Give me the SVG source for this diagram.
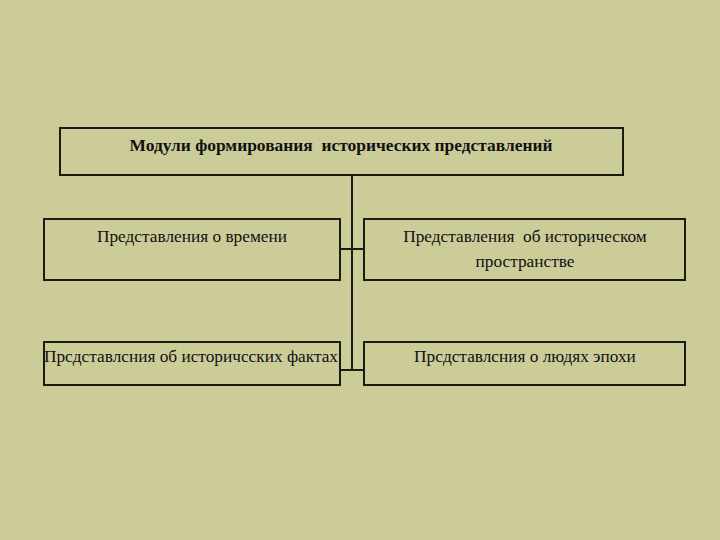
<svg xmlns="http://www.w3.org/2000/svg" width="720" height="540" viewBox="0 0 720 540">
<style>
.box{fill:#CCCC99;stroke:#1a1a10;stroke-width:2}
.t{font-family:"Liberation Serif","Times New Roman",serif;font-size:17.3px;fill:#111;text-anchor:middle}
.b{font-weight:bold;font-size:17px}
.c{stroke:#1a1a10;stroke-width:2;fill:none}
</style>
<rect width="720" height="540" fill="#CCCC99"/>
<g id="connectors">
<path class="c" d="M352 175 V370"/>
<path class="c" d="M340 249 H364" stroke-width="3"/>
<path class="c" d="M340 370 H364"/>
</g>
<g id="root">
<rect class="box" x="60" y="128" width="563" height="47"/>
<text class="t b" x="341" y="151" textLength="423" lengthAdjust="spacingAndGlyphs" xml:space="preserve">Модули формирования  исторических представлений</text>
</g>
<g id="time">
<rect class="box" x="44" y="219" width="296" height="61"/>
<text class="t" x="192" y="242">Представления о времени</text>
</g>
<g id="space">
<rect class="box" x="364" y="219" width="321" height="61"/>
<text class="t" x="525" y="242" xml:space="preserve">Представления  об историческом</text>
<text class="t" x="525" y="267">пространстве</text>
</g>
<g id="facts">
<rect class="box" x="44" y="342" width="296" height="43"/>
<text class="t" x="191" y="362" textLength="294" lengthAdjust="spacingAndGlyphs">Прсдставлсния об историчсских фактах</text>
</g>
<g id="people">
<rect class="box" x="364" y="342" width="321" height="43"/>
<text class="t" x="525" y="362">Прсдставлсния о людях эпохи</text>
</g>
</svg>
